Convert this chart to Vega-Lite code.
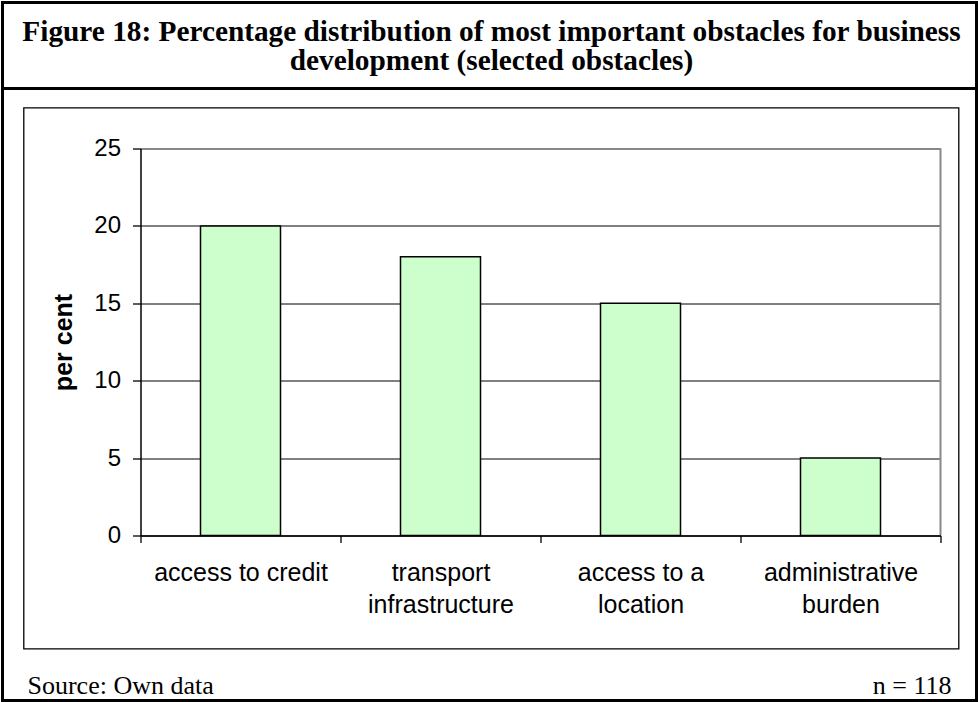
{
  "$schema": "https://vega.github.io/schema/vega-lite/v6.json",
  "padding": {"left": 0.5, "top": 0.5, "right": 0, "bottom": 0},
  "background": "white",
  "spacing": 0,
  "bounds": "flush",
  "config": {
    "view": {"stroke": "black", "strokeWidth": 3},
    "font": "Liberation Sans"
  },
  "vconcat": [
    {
      "width": 974,
      "height": 86,
      "data": {"values": [{}]},
      "layer": [
        {
          "mark": {"type": "rect", "fill": "transparent", "stroke": "black", "strokeWidth": 3},
          "encoding": {}
        },
        {
          "mark": {
            "type": "text",
            "font": "Liberation Serif",
            "fontWeight": "bold",
            "fontSize": 29.3,
            "lineHeight": 29.5,
            "align": "center",
            "baseline": "middle",
            "color": "black",
            "dx": 2,
            "dy": -14
          },
          "encoding": {
            "text": {"value": ["Figure 18: Percentage distribution of most important obstacles for business", "development (selected obstacles)"]}
          }
        }
      ]
    },
    {
      "width": 974,
      "height": 612,
      "layer": [
        {
          "data": {
            "values": [
              {"obstacle": "access to credit", "percent": 20},
              {"obstacle": "transport infrastructure", "percent": 18},
              {"obstacle": "access to a location", "percent": 15},
              {"obstacle": "administrative burden", "percent": 5}
            ]
          },
          "mark": {"type": "bar", "width": {"band": 0.4}, "fill": "#CCFFCC", "stroke": "black", "strokeWidth": 1.5},
          "encoding": {
            "x": {
              "field": "obstacle",
              "type": "nominal",
              "sort": null,
              "scale": {
                "domain": ["access to credit", "transport infrastructure", "access to a location", "administrative burden"],
                "range": [138, 938],
                "paddingInner": 0,
                "paddingOuter": 0
              },
              "axis": {
                "title": null,
                "orient": "bottom",
                "offset": -165,
                "grid": false,
                "zindex": 1,
                "domainColor": "black",
                "domainWidth": 1.5,
                "tickColor": "black",
                "tickWidth": 1.3,
                "tickSize": 7,
                "tickBand": "extent",
                "labelAngle": 0,
                "labelLimit": 0,
                "labelFontSize": 25,
                "labelColor": "black",
                "labelPadding": 18,
                "labelLineHeight": 31.5,
                "labelExpr": "datum.label == 'access to credit' ? datum.label : [slice(datum.label, 0, lastindexof(datum.label, ' ')), slice(datum.label, lastindexof(datum.label, ' ') + 1)]"
              }
            },
            "y": {
              "field": "percent",
              "type": "quantitative",
              "scale": {"domain": [0, 25], "range": [447, 60], "nice": false},
              "axis": {
                "title": "per cent",
                "values": [0, 5, 10, 15, 20, 25],
                "orient": "left",
                "offset": -138,
                "domainColor": "black",
                "domainWidth": 1.5,
                "tickColor": "black",
                "tickWidth": 1.3,
                "tickSize": 8,
                "labelFontSize": 24,
                "labelColor": "black",
                "labelPadding": 12,
                "grid": true,
                "gridColor": {"condition": {"test": "datum.value === 25", "value": "#888888"}, "value": "black"},
                "gridWidth": {"condition": {"test": "datum.value === 25", "value": 2}, "value": 1},
                "titleFontSize": 25,
                "titleFontWeight": "bold",
                "titleColor": "black",
                "titlePadding": 17
              }
            }
          }
        },
        {
          "data": {"values": [{}]},
          "mark": {"type": "rule", "color": "#888888", "strokeWidth": 2},
          "encoding": {
            "x": {"datum": "administrative burden", "bandPosition": 1},
            "y": {"datum": 0},
            "y2": {"datum": 25}
          }
        },
        {
          "data": {"values": [{}]},
          "mark": {"type": "rect", "fill": "transparent", "stroke": "black", "strokeWidth": 1.3},
          "encoding": {
            "x": {"datum": "access to credit", "bandPosition": -0.5835},
            "x2": {"datum": "administrative burden", "bandPosition": 1.0915},
            "y": {"datum": 27.62},
            "y2": {"datum": -7.324}
          }
        },
        {
          "data": {"values": [{}]},
          "mark": {"type": "text", "font": "Liberation Serif", "fontSize": 26, "align": "left", "baseline": "alphabetic", "color": "black"},
          "encoding": {
            "x": {"datum": "access to credit", "bandPosition": -0.565},
            "y": {"datum": -10.21},
            "text": {"value": "Source: Own data"}
          }
        },
        {
          "data": {"values": [{}]},
          "mark": {"type": "text", "font": "Liberation Serif", "fontSize": 26, "align": "right", "baseline": "alphabetic", "color": "black"},
          "encoding": {
            "x": {"datum": "administrative burden", "bandPosition": 1.055},
            "y": {"datum": -10.21},
            "text": {"value": "n = 118"}
          }
        }
      ]
    }
  ]
}
